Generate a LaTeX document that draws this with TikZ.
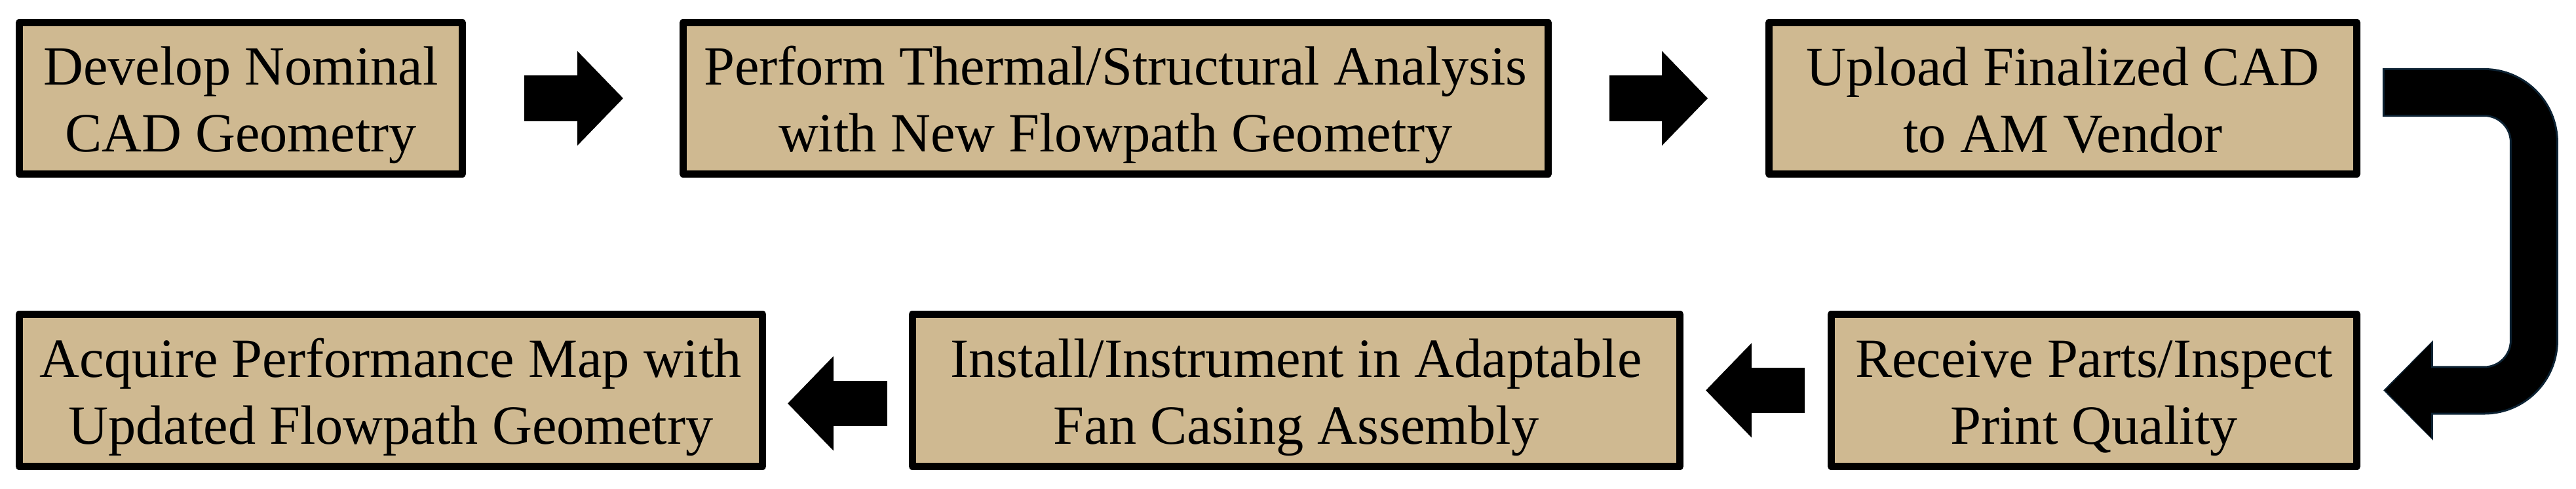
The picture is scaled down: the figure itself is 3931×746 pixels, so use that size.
\documentclass[tikz,border=0pt]{standalone}
\usepackage{fontspec}
\setmainfont{Liberation Serif}
\usepackage{tikz}
\usetikzlibrary{arrows.meta,positioning,calc}
\definecolor{boxtan}{HTML}{CFB991}
\definecolor{uline}{HTML}{0C2233}
\newcommand{\twolines}[2]{\rule{0pt}{0.8cm}#1\\#2\rule[-0.18cm]{0pt}{0.18cm}}

\begin{document}
\begin{tikzpicture}[x=0.01cm,y=-0.01cm,
  stepbox/.style={draw=black,fill=boxtan,line width=0.11cm,line join=round,
    minimum height=2.30cm,inner sep=0pt,align=center,
    font=\fontsize{24}{29}\selectfont},
  blockarrow/.style={line width=0.69cm,-{Triangle[width=1.40cm,length=0.70cm]}},
  uedge/.style={draw=uline,line width=0.74cm,rounded corners=0.76cm,
    shorten <=-0.03cm,shorten >=0.345cm,-{Triangle[width=1.48cm,length=0.76cm]}},
  ubody/.style={draw=black,line width=0.68cm,rounded corners=0.76cm,
    shorten >=0.375cm,-{Triangle[width=1.40cm,length=0.70cm]}}
  ]
\useasboundingbox (0,0) rectangle (3931,746);

\node[stepbox,minimum width=6.76cm] (dev) at (367.5,150) {\twolines{Develop Nominal}{CAD Geometry}};
\node[stepbox,minimum width=13.20cm] (perf) at (1702.5,150) {\twolines{Perform Thermal/Structural Analysis}{with New Flowpath Geometry}};
\node[stepbox,minimum width=8.97cm] (upload) at (3148,150) {\twolines{Upload Finalized CAD}{to AM Vendor}};
\node[stepbox,minimum width=11.34cm,minimum height=2.32cm] (acquire) at (596.5,595.5) {\twolines{Acquire Performance Map with}{Updated Flowpath Geometry}};
\node[stepbox,minimum width=11.71cm,minimum height=2.32cm] (install) at (1978,595.5) {\twolines{Install/Instrument in Adaptable}{Fan Casing Assembly}};
\node[stepbox,minimum width=8.02cm,minimum height=2.32cm] (receive) at (3195.5,595.5) {\twolines{Receive Parts/Inspect}{Print Quality}};

\path[blockarrow] (dev) edge[shorten <=0.885cm,shorten >=0.855cm] (perf);
\path[blockarrow] (perf) edge[shorten <=0.875cm,shorten >=0.875cm] (upload);
\path[blockarrow] (receive) edge[shorten <=0.345cm,shorten >=0.335cm] (install);
\path[blockarrow] ([yshift=-0.2cm]install.west) edge[shorten <=0.325cm,shorten >=0.325cm] ([yshift=-0.2cm]acquire.east);

\draw[uedge] ([xshift=0.365cm,yshift=0.09cm]upload.east) -| ([xshift=2.645cm]receive.east) -- (receive.east);
\draw[ubody] ([xshift=0.365cm,yshift=0.09cm]upload.east) -| ([xshift=2.645cm]receive.east) -- (receive.east);
\end{tikzpicture}
\end{document}
